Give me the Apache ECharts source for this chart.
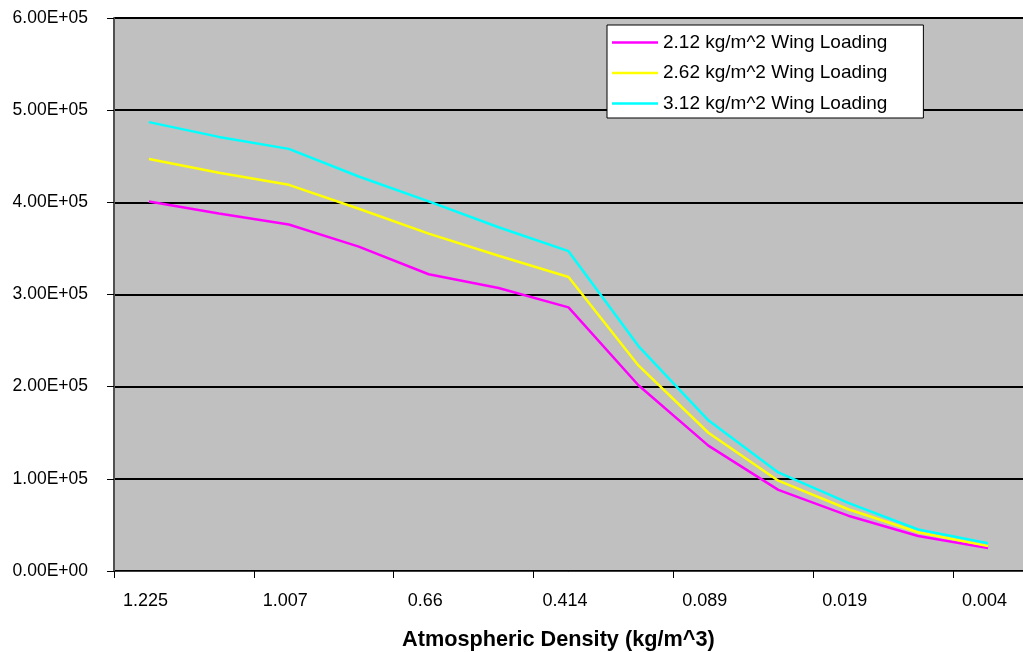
<!DOCTYPE html>
<html>
<head>
<meta charset="utf-8">
<script src="https://cdn.jsdelivr.net/npm/echarts@6/dist/echarts.min.js"></script>
<style>
  html, body { margin: 0; padding: 0; background: #fff; }
  #chart { width: 1023px; height: 652px; }
</style>
</head>
<body>
<div id="chart"></div>
<script>
// Atmospheric density at each altitude step (kg/m^3); every other one is labelled
const densities = ['1.225', '1.112', '1.007', '0.819', '0.66', '0.526', '0.414',
                   '0.195', '0.089', '0.04', '0.019', '0.008', '0.004'];

// One curve per wing loading
const load212 = [401000, 388000, 376000, 352000, 322000, 307000, 286000,
                 201500, 136000, 88000, 60000, 38000, 25000];
const load262 = [447000, 432000, 419000, 393000, 366000, 342000, 319000,
                 223000, 150000, 98000, 67000, 42000, 27000];
const load312 = [487000, 471000, 458000, 428000, 401000, 373000, 347000,
                 244000, 163500, 107000, 74000, 45000, 30000];

const seriesNames = ['2.12 kg/m^2 Wing Loading', '2.62 kg/m^2 Wing Loading', '3.12 kg/m^2 Wing Loading'];
const seriesColors = ['#FF00FF', '#FFFF00', '#00FFFF'];
const seriesData = [load212, load262, load312];

const FONT = "'Liberation Sans', Arial, sans-serif";

// Scientific notation with a two-digit exponent, e.g. 5.00E+05
function sci(v) {
  if (v === 0) return '0.00E+00';
  const e = Math.floor(Math.log10(Math.abs(v)));
  const m = v / Math.pow(10, e);
  const sign = e < 0 ? '-' : '+';
  const ae = Math.abs(e);
  return m.toFixed(2) + 'E' + sign + (ae < 10 ? '0' + ae : String(ae));
}

const chart = echarts.init(document.getElementById('chart'), null, { renderer: 'canvas' });

chart.setOption({
  backgroundColor: '#ffffff',
  animation: false,
  title: {
    text: 'Atmospheric Density (kg/m^3)',
    left: 402,
    top: 629,
    padding: 0,
    textStyle: { fontFamily: FONT, fontSize: 21.7, fontWeight: 'bold', color: '#000' }
  },
  legend: {
    orient: 'vertical',
    left: 607,
    top: 25,
    backgroundColor: '#ffffff',
    borderColor: '#000000',
    borderWidth: 1,
    borderRadius: 0,
    padding: [8, 36, 5, 5],
    icon: 'rect',
    itemWidth: 46,
    itemHeight: 2.5,
    itemGap: 11.5,
    data: seriesNames,
    textStyle: { fontFamily: FONT, fontSize: 19, color: '#000', lineHeight: 19 }
  },
  grid: {
    left: 114,
    top: 18,
    width: 921,
    bottom: 81,
    show: true,
    backgroundColor: '#C0C0C0',
    borderWidth: 0,
    containLabel: false
  },
  xAxis: {
    type: 'category',
    data: densities,
    boundaryGap: true,
    axisLine: { show: true, lineStyle: { color: '#404040', width: 1 } },
    axisTick: { show: true, interval: 1, length: 7, lineStyle: { color: '#000', width: 1 } },
    axisLabel: {
      interval: 1,
      margin: 21,
      padding: [0, 7, 0, 0],
      fontFamily: FONT,
      fontSize: 18,
      color: '#000'
    },
    splitLine: { show: false }
  },
  yAxis: {
    type: 'value',
    min: 0,
    max: 600000,
    interval: 100000,
    axisLine: { show: true, lineStyle: { color: '#505050', width: 2 } },
    axisTick: { show: true, length: 7, lineStyle: { color: '#000', width: 1 } },
    axisLabel: {
      margin: 26,
      fontFamily: FONT,
      fontSize: 17.5,
      color: '#000',
      formatter: sci
    },
    splitLine: { show: true, lineStyle: { color: '#000', width: 2 } }
  },
  series: seriesData.map((d, i) => ({
    name: seriesNames[i],
    type: 'line',
    data: d,
    symbol: 'none',
    smooth: false,
    color: seriesColors[i],
    lineStyle: { color: seriesColors[i], width: 2.5 }
  }))
});
</script>
</body>
</html>
